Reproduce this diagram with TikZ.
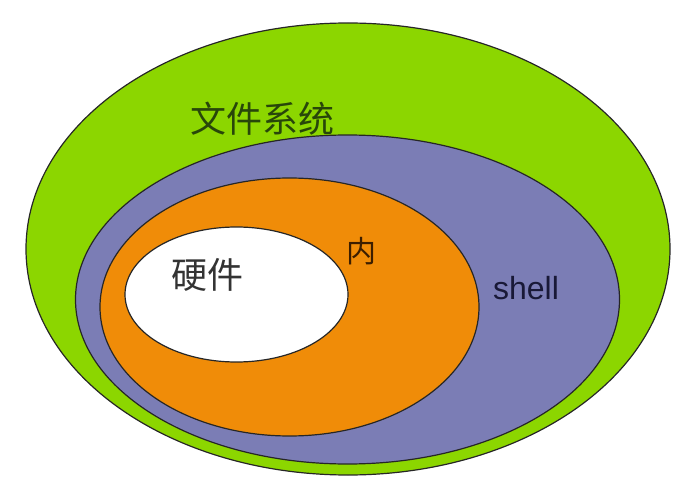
\documentclass[tikz,border=0pt]{standalone}
\usepackage{fontspec}
\setmainfont{Liberation Sans}
\newfontfamily\cjk{Noto Sans CJK SC}
\definecolor{fsgreen}{RGB}{140,214,0}
\definecolor{shellblue}{RGB}{123,125,181}
\definecolor{kernorange}{RGB}{240,140,8}
\tikzset{layer/.style={draw=black!85,line width=1.2pt}}
\tikzset{label/.style={inner sep=0pt,font=\cjk\fontsize{#1}{#1}\selectfont}}

\begin{document}
\begin{tikzpicture}[x=1pt,y=-1pt]
\useasboundingbox (0,0) rectangle (691,492);
\draw[layer,fill=fsgreen] (348,249) ellipse [x radius=322,y radius=226];
\draw[layer,fill=shellblue] (347.5,299.5) ellipse [x radius=272,y radius=164.5];
\draw[layer,fill=kernorange] (289.5,307) ellipse [x radius=189.5,y radius=129];
\draw[layer,fill=white] (236.5,294.5) ellipse [x radius=111.5,y radius=67.5];
\node[label=36,text={rgb,255:red,40;green,70;blue,10}] (fs) at (262,119) {文件系统};
\node[label=36,text=black!80] (hw) at (207,275) {硬件};
\node[label=30,text={rgb,255:red,60;green,30;blue,0}] (kern) at (361,251) {内};
\node[inner sep=0pt,font=\fontsize{32}{32}\selectfont,text={rgb,255:red,25;green,25;blue,55}] (sh) at (526,288) {shell};
\end{tikzpicture}
\end{document}
